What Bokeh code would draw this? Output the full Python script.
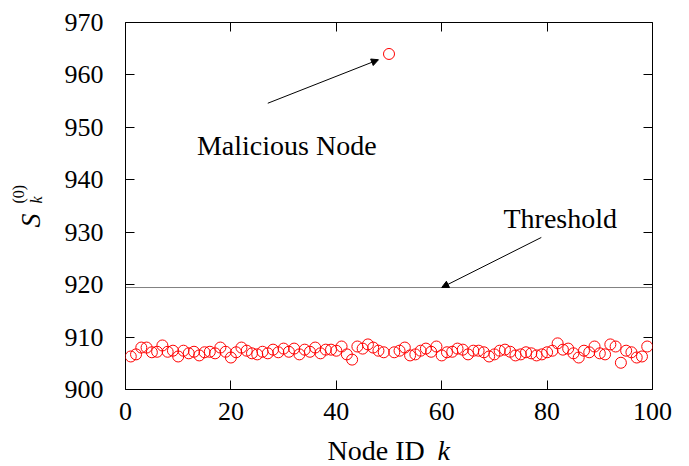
import numpy as np
from bokeh.plotting import figure
from bokeh.models import (LinearAxis, Range1d, FixedTicker, Label, Arrow,
                          NormalHead, Title)
from bokeh.embed import file_html
from bokeh.resources import INLINE

# ---- data ----
node_ids = list(range(1, 100))
scores = [906.3, 906.7, 908.0, 908.0, 907.1, 907.2, 908.4, 907.2, 907.4, 906.3,
          907.4, 906.9, 907.2, 906.5, 907.1, 907.2, 906.9, 908.0, 907.2, 906.1,
          907.1, 908.0, 907.4, 906.9, 906.7, 907.2, 906.9, 907.6, 907.1, 907.8,
          907.2, 907.8, 906.7, 907.6, 907.2, 908.0, 906.9, 907.6, 907.6, 907.4,
          908.2, 906.7, 905.7, 908.2, 907.8, 908.6, 908.0, 907.4, 907.1, 964.0,
          907.1, 907.4, 908.0, 906.5, 906.7, 907.4, 907.8, 907.2, 908.2, 906.5,
          907.1, 907.2, 907.8, 907.6, 906.7, 907.4, 907.4, 907.1, 906.3, 906.7,
          907.4, 907.6, 907.2, 906.5, 906.7, 907.1, 906.9, 906.5, 906.7, 907.1,
          907.4, 908.8, 907.6, 907.8, 906.9, 906.1, 907.4, 907.1, 908.2, 906.9,
          906.7, 908.6, 908.2, 905.1, 907.4, 907.1, 906.1, 906.3, 908.2]
threshold = 919.45
x_limits = [0, 100]
y_limits = [900, 970]
x_ticks = [0, 20, 40, 60, 80, 100]
y_ticks = [900, 910, 920, 930, 940, 950, 960, 970]

FONT = "Liberation Serif"
TICK_SIZE = "26px"
TEXT_SIZE = "28px"
SCRIPT_SIZE = "16px"


def h(px):
    return 1.107 * px


p = figure(width=681, height=466, output_backend="svg", toolbar_location=None,
           x_range=Range1d(*x_limits), y_range=Range1d(*y_limits),
           x_axis_type=None, y_axis_type=None,
           min_border_left=125, min_border_right=29, min_border_top=22,
           min_border_bottom=77)
p.background_fill_color = "white"
p.border_fill_color = "white"
p.outline_line_color = "black"
p.outline_line_width = 1
p.xgrid.visible = False
p.ygrid.visible = False


def make_axis(ticks, labels=True):
    ax = LinearAxis(ticker=FixedTicker(ticks=ticks))
    ax.axis_line_color = None
    ax.major_tick_in = 9
    ax.major_tick_out = 0
    ax.minor_tick_line_color = None
    ax.major_tick_line_color = "black"
    ax.major_tick_line_width = 1
    if labels:
        ax.major_label_text_font = FONT
        ax.major_label_text_font_size = TICK_SIZE
        ax.major_label_text_color = "black"
        ax.axis_label = " "
        ax.axis_label_text_font = FONT
        ax.axis_label_text_font_size = "10px"
    else:
        ax.major_label_text_font_size = "0px"
        ax.major_label_text_color = None
        ax.major_label_standoff = 0
    return ax

xb = make_axis(x_ticks)
xb.major_label_standoff = 13
xb.axis_label_standoff = 15
p.add_layout(xb, "below")
yl = make_axis(y_ticks)
yl.major_label_standoff = 22
yl.axis_label_standoff = 10
p.add_layout(yl, "left")
p.add_layout(make_axis(x_ticks, labels=False), "above")
p.add_layout(make_axis(y_ticks, labels=False), "right")

# threshold line (dotted)
p.line(x_limits, [threshold, threshold], line_color="black", line_width=1,
       line_dash="1 1")

# points
p.scatter(node_ids, scores, marker="circle", size=11, fill_color=None,
          line_color="#ff0000", line_width=1)

# annotations
p.add_layout(Label(x=30.6, y=946.5, text="Malicious Node", text_font=FONT,
                   text_font_size=TEXT_SIZE, text_align="center",
                   text_baseline="middle", text_color="black"))
p.add_layout(Arrow(x_start=27.0, y_start=954.6, x_end=48.0, y_end=962.9,
                   line_width=1, line_color="black",
                   end=NormalHead(size=7, fill_color="black", line_color="black")))
p.add_layout(Label(x=82.5, y=932.6, text="Threshold", text_font=FONT,
                   text_font_size=TEXT_SIZE, text_align="center",
                   text_baseline="middle", text_color="black"))
p.add_layout(Arrow(x_start=78.9, y_start=929.0, x_end=60.0, y_end=threshold,
                   line_width=1, line_color="black",
                   end=NormalHead(size=7, fill_color="black", line_color="black")))

# x-axis title: "Node ID k" (k italic)
p.add_layout(Title(text="Node ID", align="left", offset=202, vertical_align="top",
                   standoff=int(round(-(2 + h(28)))), text_font=FONT,
                   text_font_size=TEXT_SIZE, text_font_style="normal",
                   text_color="black"), "below")
p.add_layout(Title(text="k", align="left", offset=312, vertical_align="top",
                   standoff=int(round(-(2 + h(28)))), text_font=FONT,
                   text_font_size=TEXT_SIZE, text_font_style="italic",
                   text_color="black"), "below")

# y-axis title: S_k^(0)
p.add_layout(Title(text="k", align="left", offset=186, vertical_align="bottom",
                   standoff=int(round(4 - h(16))), text_font=FONT,
                   text_font_size=SCRIPT_SIZE, text_font_style="italic",
                   text_color="black"), "left")
p.add_layout(Title(text="S", align="left", offset=162, vertical_align="bottom",
                   standoff=int(round(4 - h(28))), text_font=FONT,
                   text_font_size=TEXT_SIZE, text_font_style="italic",
                   text_color="black"), "left")
p.add_layout(Title(text="(0)", align="left", offset=186, vertical_align="bottom",
                   standoff=int(round(18 - h(16))), text_font=FONT,
                   text_font_size=SCRIPT_SIZE, text_font_style="normal",
                   text_color="black"), "left")

open("out.html", "w").write(file_html(p, INLINE))
